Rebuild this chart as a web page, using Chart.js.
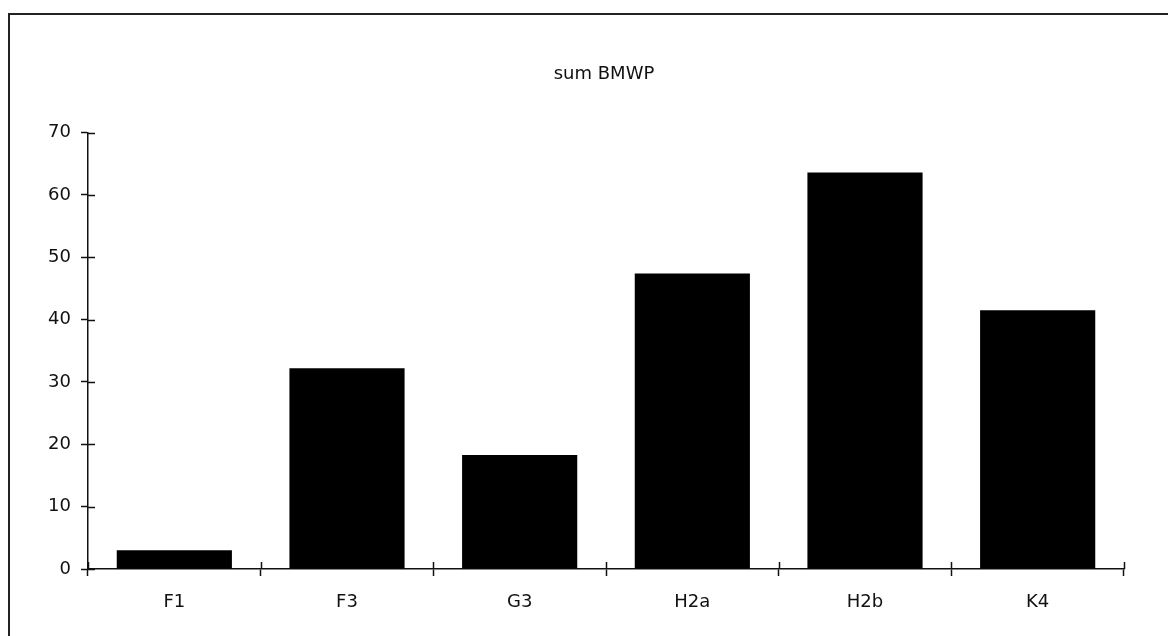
<!DOCTYPE html>
<html>
<head>
<meta charset="utf-8">
<script src="https://cdn.jsdelivr.net/npm/chart.js@4.4.0/dist/chart.umd.min.js"></script>
<style>
  html, body { margin: 0; padding: 0; background: #fff; overflow: hidden; }
  #wrap { position: relative; width: 1168px; height: 636px; }
</style>
</head>
<body>
<div id="wrap"><canvas id="myChart" width="1168" height="636"></canvas></div>
<script>
// data
const sites = ['F1', 'F3', 'G3', 'H2a', 'H2b', 'K4'];
const sumBmwp = [3, 32.2, 18.3, 47.4, 63.6, 41.5];
const yTicks = [0, 10, 20, 30, 40, 50, 60, 70];

const ink = '#111';
const font = { family: "'DejaVu Sans', sans-serif", size: 18 };

// frame round the chart and the inner halves of the tick marks
const frameAndTicks = {
    id: 'frameAndTicks',
    afterDraw(chart) {
        const ctx = chart.ctx;
        const y = chart.scales.y;
        const area = chart.chartArea;
        ctx.save();
        ctx.strokeStyle = '#222';
        ctx.lineWidth = 2;
        ctx.strokeRect(9, 14, 1300, 800);

        ctx.strokeStyle = ink;
        ctx.lineWidth = 1.5;
        ctx.beginPath();
        yTicks.forEach(v => {
            const py = Math.round(y.getPixelForValue(v)) + 0.5;
            ctx.moveTo(area.left, py);
            ctx.lineTo(area.left + 7, py);
        });
        for (let i = 0; i <= sites.length; i++) {
            const px = Math.round(area.left + (area.right - area.left) * i / sites.length) + 0.5;
            ctx.moveTo(px, area.bottom);
            ctx.lineTo(px, area.bottom - 7);
        }
        ctx.stroke();
        ctx.restore();
    }
};

const ctx = document.getElementById('myChart').getContext('2d');
const barChart = new Chart(ctx, {
    type: 'bar',
    data: {
        labels: sites,
        datasets: [{
            label: 'sum BMWP',
            data: sumBmwp,
            backgroundColor: '#000',
            borderWidth: 0,
            barPercentage: 0.667,
            categoryPercentage: 1
        }]
    },
    options: {
        responsive: false,
        animation: false,
        layout: { padding: { left: 40, right: 0, top: 0, bottom: 0 } },
        plugins: {
            legend: { display: false },
            tooltip: { enabled: false },
            title: {
                display: true,
                text: 'sum BMWP',
                color: ink,
                font: { family: font.family, size: 18, weight: 'normal' },
                padding: { top: 64, bottom: 47 }
            }
        },
        scales: {
            x: {
                grid: {
                    display: true,
                    offset: true,
                    drawOnChartArea: false,
                    tickLength: 7,
                    tickColor: ink,
                    tickWidth: 1.5
                },
                border: { color: ink, width: 1.5 },
                ticks: { color: ink, font: font, padding: 16, maxRotation: 0 },
                afterFit(scale) { scale.height = 67; }
            },
            y: {
                min: 0,
                max: 70,
                afterBuildTicks(scale) { scale.ticks = yTicks.map(v => ({ value: v })); },
                grid: {
                    display: true,
                    drawOnChartArea: false,
                    tickLength: 7,
                    tickColor: ink,
                    tickWidth: 1.5
                },
                border: { color: ink, width: 1.5 },
                ticks: { color: ink, font: font, padding: 10 },
                afterFit(scale) { scale.width = 48; }
            },
            // empty right-hand axis, only keeps the space right of the plot
            yRight: {
                position: 'right',
                min: 0,
                max: 70,
                grid: { display: false },
                border: { display: false },
                ticks: { display: false },
                afterFit(scale) { scale.width = 44; }
            }
        }
    },
    plugins: [frameAndTicks]
});
</script>
</body>
</html>
